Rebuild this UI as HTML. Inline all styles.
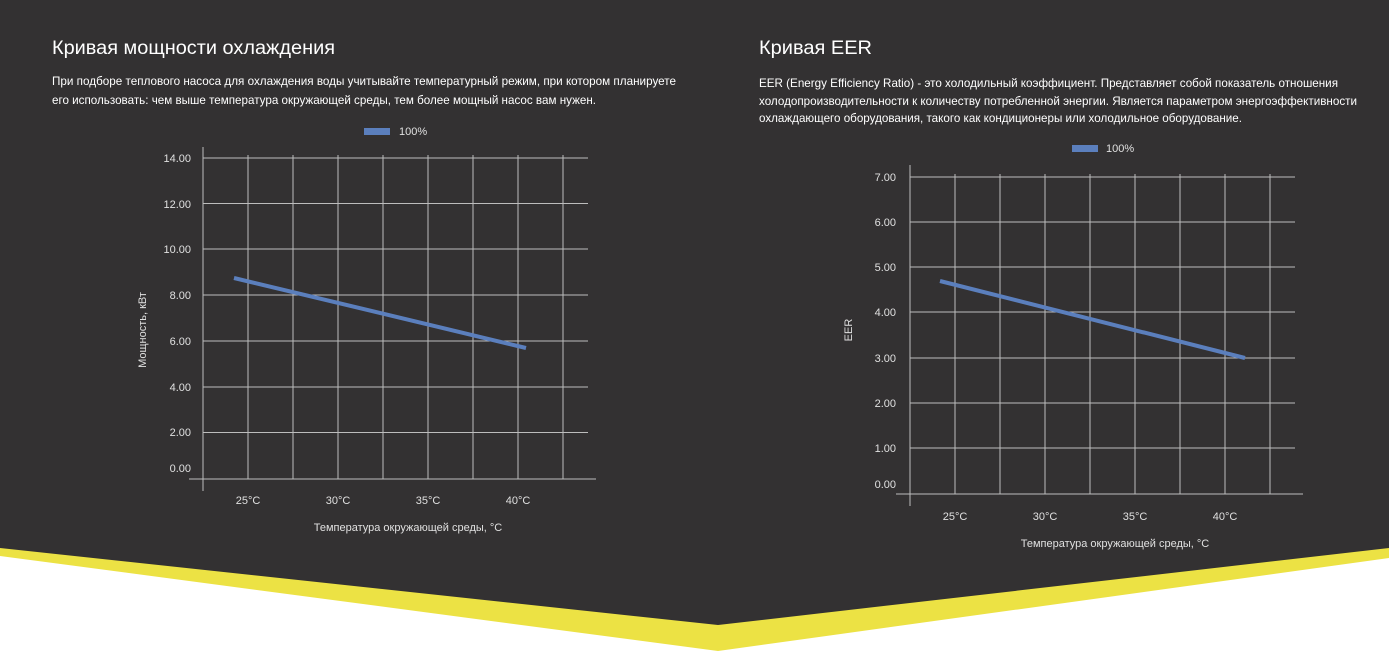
<!DOCTYPE html>
<html><head><meta charset="utf-8"><style>
html,body{margin:0;padding:0;background:#fff;}
svg{display:block;font-family:"Liberation Sans",sans-serif;}
</style></head><body>
<svg width="1389" height="651" viewBox="0 0 1389 651" xmlns="http://www.w3.org/2000/svg">
<polygon points="0,0 1389,0 1389,558 718,651 0,556" fill="#ece244"/>
<polygon points="0,0 1389,0 1389,548 718,625 0,548" fill="#333132"/>

<g fill="#ffffff">
<text x="52" y="54" font-size="19" textLength="283" lengthAdjust="spacingAndGlyphs">Кривая мощности охлаждения</text>
<text x="52" y="85" font-size="12" textLength="624" lengthAdjust="spacingAndGlyphs">При подборе теплового насоса для охлаждения воды учитывайте температурный режим, при котором планируете</text>
<text x="52" y="104" font-size="12" textLength="544" lengthAdjust="spacingAndGlyphs">его использовать: чем выше температура окружающей среды, тем более мощный насос вам нужен.</text>
<text x="759" y="54" font-size="19" textLength="113" lengthAdjust="spacingAndGlyphs">Кривая EER</text>
<text x="759" y="87" font-size="12" textLength="579" lengthAdjust="spacingAndGlyphs">EER (Energy Efficiency Ratio) - это холодильный коэффициент. Представляет собой показатель отношения</text>
<text x="759" y="105" font-size="12" textLength="598" lengthAdjust="spacingAndGlyphs">холодопроизводительности к количеству потребленной энергии. Является параметром энергоэффективности</text>
<text x="759" y="122" font-size="12" textLength="483" lengthAdjust="spacingAndGlyphs">охлаждающего оборудования, такого как кондиционеры или холодильное оборудование.</text>
</g>

<!-- Chart 1 -->
<g stroke="#bdbdbd" stroke-width="1">
<line x1="203" y1="158" x2="588" y2="158"/><line x1="203" y1="203.5" x2="588" y2="203.5"/>
<line x1="203" y1="249" x2="588" y2="249"/><line x1="203" y1="295" x2="588" y2="295"/>
<line x1="203" y1="341" x2="588" y2="341"/><line x1="203" y1="387" x2="588" y2="387"/>
<line x1="203" y1="432.5" x2="588" y2="432.5"/>
<line x1="248" y1="155" x2="248" y2="479"/><line x1="293" y1="155" x2="293" y2="479"/>
<line x1="338" y1="155" x2="338" y2="479"/><line x1="383" y1="155" x2="383" y2="479"/>
<line x1="428" y1="155" x2="428" y2="479"/><line x1="473" y1="155" x2="473" y2="479"/>
<line x1="518" y1="155" x2="518" y2="479"/><line x1="563" y1="155" x2="563" y2="479"/>
<line x1="203" y1="147" x2="203" y2="491"/><line x1="189" y1="479" x2="596" y2="479"/>
</g>
<line x1="234" y1="278" x2="526" y2="348" stroke="#5b7fbd" stroke-width="4"/>
<rect x="364" y="128" width="26" height="7" fill="#5b7fbd"/>
<g fill="#e0e0e0" font-size="11">
<text x="399" y="135">100%</text>
<g text-anchor="end">
<text x="191" y="162">14.00</text><text x="191" y="208">12.00</text><text x="191" y="253">10.00</text>
<text x="191" y="299">8.00</text><text x="191" y="345">6.00</text><text x="191" y="391">4.00</text>
<text x="191" y="436">2.00</text><text x="191" y="472">0.00</text>
</g>
<g text-anchor="middle">
<text x="248" y="504">25°C</text><text x="338" y="504">30°C</text><text x="428" y="504">35°C</text><text x="518" y="504">40°C</text>
<text x="408" y="531">Температура окружающей среды, °C</text>
<text transform="translate(146,330) rotate(-90)">Мощность, кВт</text>
</g>
</g>

<!-- Chart 2 -->
<g stroke="#bdbdbd" stroke-width="1">
<line x1="910" y1="177" x2="1295" y2="177"/><line x1="910" y1="222" x2="1295" y2="222"/>
<line x1="910" y1="267" x2="1295" y2="267"/><line x1="910" y1="312" x2="1295" y2="312"/>
<line x1="910" y1="358" x2="1295" y2="358"/><line x1="910" y1="403" x2="1295" y2="403"/>
<line x1="910" y1="448" x2="1295" y2="448"/>
<line x1="955" y1="174" x2="955" y2="494"/><line x1="1000" y1="174" x2="1000" y2="494"/>
<line x1="1045" y1="174" x2="1045" y2="494"/><line x1="1090" y1="174" x2="1090" y2="494"/>
<line x1="1135" y1="174" x2="1135" y2="494"/><line x1="1180" y1="174" x2="1180" y2="494"/>
<line x1="1225" y1="174" x2="1225" y2="494"/><line x1="1270" y1="174" x2="1270" y2="494"/>
<line x1="910" y1="165" x2="910" y2="506"/><line x1="896" y1="494" x2="1303" y2="494"/>
</g>
<line x1="940" y1="281" x2="1245" y2="358" stroke="#5b7fbd" stroke-width="4"/>
<rect x="1072" y="145" width="26" height="7" fill="#5b7fbd"/>
<g fill="#e0e0e0" font-size="11">
<text x="1106" y="152">100%</text>
<g text-anchor="end">
<text x="896" y="181">7.00</text><text x="896" y="226">6.00</text><text x="896" y="271">5.00</text>
<text x="896" y="316">4.00</text><text x="896" y="362">3.00</text><text x="896" y="407">2.00</text>
<text x="896" y="452">1.00</text><text x="896" y="488">0.00</text>
</g>
<g text-anchor="middle">
<text x="955" y="520">25°C</text><text x="1045" y="520">30°C</text><text x="1135" y="520">35°C</text><text x="1225" y="520">40°C</text>
<text x="1115" y="547">Температура окружающей среды, °C</text>
<text transform="translate(852,330) rotate(-90)">EER</text>
</g>
</g>
</svg>
</body></html>
